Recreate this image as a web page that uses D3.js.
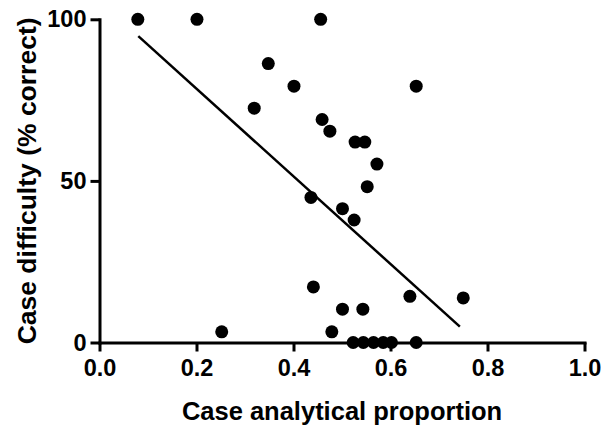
<!DOCTYPE html>
<html>
<head>
<meta charset="utf-8">
<script src="https://cdn.jsdelivr.net/npm/d3@7"></script>
<style>
  body { margin: 0; background: #fff; }
  svg text { font-family: "Liberation Sans", Arial, sans-serif; font-weight: bold; fill: #000; }
  .axis path, .axis line { stroke: #000; stroke-width: 3; }
  .axis path { stroke-linecap: square; }
</style>
</head>
<body>
<div id="chart"></div>
<script>
// analytical proportion vs % correct
const proportion = [0.079, 0.201, 0.348, 0.401, 0.319, 0.456, 0.653, 0.459, 0.475, 0.527,
                    0.547, 0.572, 0.552, 0.436, 0.501, 0.525, 0.441, 0.640, 0.750, 0.501,
                    0.543, 0.479, 0.252, 0.523, 0.544, 0.565, 0.585, 0.602, 0.653];
const correct    = [100, 100, 86.3, 79.3, 72.5, 100, 79.3, 69, 65.4, 62,
                    62, 55.2, 48.2, 44.9, 41.4, 37.9, 17.2, 14.3, 13.8, 10.3,
                    10.3, 3.3, 3.3, 0, 0, 0, 0, 0, 0];
// regression line end points
const fitX = [0.08, 0.743];
const fitY = [94.8, 4.9];
const xTicks = [0, 0.2, 0.4, 0.6, 0.8, 1.0];
const yTicks = [0, 50, 100];

const width = 603, height = 432;

let svg = d3.select("#chart")
    .append("svg")
    .attr("width", width)
    .attr("height", height);

let x = d3.scaleLinear().domain([0, 1]).range([99.5, 584.5]);
let y = d3.scaleLinear().domain([0, 100]).range([342.5, 19.3]);

// axes
let xAxis = svg.append("g")
    .attr("class", "axis")
    .attr("transform", `translate(0, ${y(0)})`)
    .call(d3.axisBottom(x).tickValues(xTicks).tickFormat(d3.format(".1f"))
        .tickSize(9).tickSizeOuter(0).tickPadding(8));
xAxis.selectAll("text").style("font-size", "23.5px");

let yAxis = svg.append("g")
    .attr("class", "axis")
    .attr("transform", `translate(${x(0)}, 0)`)
    .call(d3.axisLeft(y).tickValues(yTicks).tickSize(9).tickSizeOuter(0).tickPadding(4));
yAxis.selectAll("text").style("font-size", "23.5px");
svg.selectAll(".axis .domain").attr("stroke", "#000");

// regression line
let fit = fitX.map((v, i) => ({x: v, y: fitY[i]}));
svg.append("path")
    .datum(fit)
    .attr("fill", "none")
    .attr("stroke", "#000")
    .attr("stroke-width", 2.5)
    .attr("d", d3.line().x(d => x(d.x)).y(d => y(d.y)));

// points
let points = proportion.map((v, i) => ({x: v, y: correct[i]}));
svg.append("g")
    .selectAll("circle")
    .data(points)
    .enter()
    .append("circle")
    .attr("cx", d => x(d.x))
    .attr("cy", d => y(d.y))
    .attr("r", 6.5)
    .attr("fill", "#000");

// axis titles
svg.append("text")
    .attr("x", (x(0) + x(1)) / 2)
    .attr("y", 420)
    .style("text-anchor", "middle")
    .style("font-size", "25.5px")
    .text("Case analytical proportion");

svg.append("text")
    .attr("transform", `translate(36, ${(y(0) + y(100)) / 2}) rotate(-90)`)
    .style("text-anchor", "middle")
    .style("font-size", "26.5px")
    .text("Case difficulty (% correct)");
</script>
</body>
</html>
